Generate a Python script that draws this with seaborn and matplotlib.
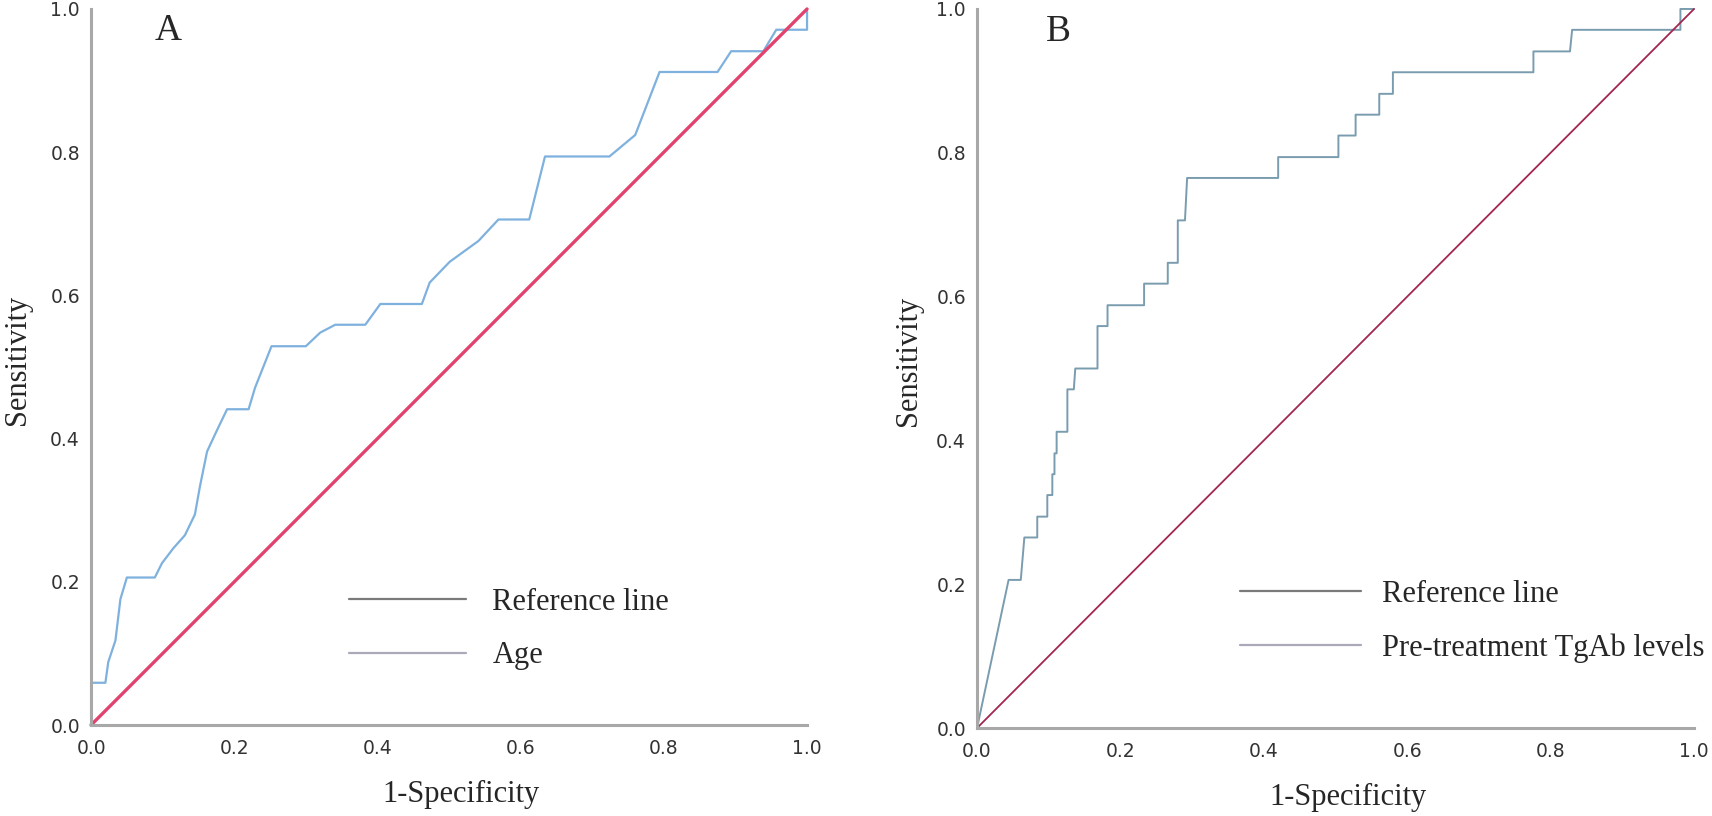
import numpy as np
import pandas as pd
import matplotlib
matplotlib.use("Agg")
import matplotlib.pyplot as plt
from matplotlib.lines import Line2D
import seaborn as sns

sns.set_style("white")
plt.rcParams['font.family'] = ['DejaVu Sans']

# ROC points, panel A (Age)
age_fpr = [0, 0, 0.020, 0.024, 0.034, 0.041, 0.050, 0.089, 0.099, 0.115, 0.131, 0.145,
           0.152, 0.162, 0.176, 0.190, 0.220, 0.229, 0.252, 0.300, 0.320, 0.341, 0.383,
           0.404, 0.462, 0.473, 0.501, 0.541, 0.569, 0.612, 0.634, 0.724, 0.760, 0.794,
           0.875, 0.894, 0.939, 0.957, 1.0, 1.0]
age_tpr = [0, 0.059, 0.059, 0.088, 0.118, 0.176, 0.206, 0.206, 0.226, 0.247, 0.265, 0.294,
           0.333, 0.382, 0.412, 0.441, 0.441, 0.471, 0.529, 0.529, 0.548, 0.559, 0.559,
           0.588, 0.588, 0.618, 0.647, 0.676, 0.706, 0.706, 0.794, 0.794, 0.824, 0.912,
           0.912, 0.941, 0.941, 0.971, 0.971, 1.0]

# panel B (Pre-treatment TgAb levels)
tgab_fpr = [0, 0.044, 0.061, 0.066, 0.084, 0.084, 0.098, 0.098, 0.105, 0.105, 0.108, 0.108,
            0.111, 0.111, 0.126, 0.126, 0.135, 0.137, 0.168, 0.168, 0.182, 0.182, 0.233,
            0.233, 0.266, 0.266, 0.280, 0.280, 0.290, 0.293, 0.420, 0.420, 0.504, 0.504,
            0.528, 0.528, 0.561, 0.561, 0.580, 0.580, 0.776, 0.776, 0.827, 0.830, 0.981,
            0.981, 1.0]
tgab_tpr = [0, 0.206, 0.206, 0.265, 0.265, 0.294, 0.294, 0.324, 0.324, 0.353, 0.353, 0.382,
            0.382, 0.412, 0.412, 0.471, 0.471, 0.500, 0.500, 0.559, 0.559, 0.588, 0.588,
            0.618, 0.618, 0.647, 0.647, 0.706, 0.706, 0.765, 0.765, 0.794, 0.794, 0.824,
            0.824, 0.853, 0.853, 0.882, 0.882, 0.912, 0.912, 0.941, 0.941, 0.971, 0.971,
            1.0, 1.0]

ref_line = [0, 1]
ticks = [0.0, 0.2, 0.4, 0.6, 0.8, 1.0]
tick_labels = ['0.0', '0.2', '0.4', '0.6', '0.8', '1.0']

serif = 'Liberation Serif'

fig = plt.figure(figsize=(17.12, 8.16), dpi=100)
axA = fig.add_axes([0.0532, 0.1115, 0.4182, 0.8775])
axB = fig.add_axes([0.5707, 0.1078, 0.4188, 0.8812])


def style_axis(ax, letter, letter_x, ylab_x):
    ax.set_xlim(0, 1)
    ax.set_ylim(0, 1)
    ax.set_xticks(ticks)
    ax.set_yticks(ticks)
    ax.set_xticklabels(tick_labels)
    ax.set_yticklabels(tick_labels)
    ax.tick_params(axis='x', length=0, pad=10, labelsize=13.5, labelcolor='#333333')
    ax.tick_params(axis='y', length=0, pad=8, labelsize=13.5, labelcolor='#333333')
    sns.despine(ax=ax)
    for s in ['left', 'bottom']:
        ax.spines[s].set_color('#a8a8a8')
        ax.spines[s].set_linewidth(2.2)
    ax.set_xlabel('1-Specificity', family=serif, fontsize=22)
    ax.set_ylabel('Sensitivity', family=serif, fontsize=22)
    ax.xaxis.set_label_coords(0.517, -0.077)
    ax.yaxis.set_label_coords(ylab_x, 0.51)
    ax.text(letter_x, 0.969, letter, transform=ax.transAxes, family=serif,
            fontsize=27, ha='center', va='center')


# Panel A
dfA = pd.DataFrame({'fpr': age_fpr, 'tpr': age_tpr})
sns.lineplot(data=dfA, x='fpr', y='tpr', sort=False, estimator=None,
             color='#7fb1de', lw=1.6, ax=axA)
sns.lineplot(x=ref_line, y=ref_line, color='#e2436e', lw=2.4, ax=axA)
for ln in axA.lines:
    ln.set_clip_on(False)
style_axis(axA, 'A', 0.1075, -0.082)
handlesA = [Line2D([], [], color='#7a7a7a', lw=1.6),
            Line2D([], [], color='#a9a9b9', lw=1.6)]
axA.legend(handlesA, ['Reference line', 'Age'], loc='center left',
           bbox_to_anchor=(0.360, 0.134), frameon=False, borderpad=0, borderaxespad=0,
           handlelength=3.85, handletextpad=0.85, labelspacing=0.8,
           prop={'family': serif, 'size': 22})

# Panel B
dfB = pd.DataFrame({'fpr': tgab_fpr, 'tpr': tgab_tpr})
sns.lineplot(data=dfB, x='fpr', y='tpr', sort=False, estimator=None,
             color='#7a9caf', lw=1.4, ax=axB)
sns.lineplot(x=ref_line, y=ref_line, color='#a3264f', lw=1.3, ax=axB)
for ln in axB.lines:
    ln.set_clip_on(False)
style_axis(axB, 'B', 0.114, -0.075)
handlesB = [Line2D([], [], color='#7a7a7a', lw=1.6),
            Line2D([], [], color='#a9a9b9', lw=1.6)]
axB.legend(handlesB, ['Reference line', 'Pre-treatment TgAb levels'], loc='center left',
           bbox_to_anchor=(0.367, 0.148), frameon=False, borderpad=0, borderaxespad=0,
           handlelength=3.95, handletextpad=0.7, labelspacing=0.8,
           prop={'family': serif, 'size': 22})

fig.savefig('out.png', dpi=100)
